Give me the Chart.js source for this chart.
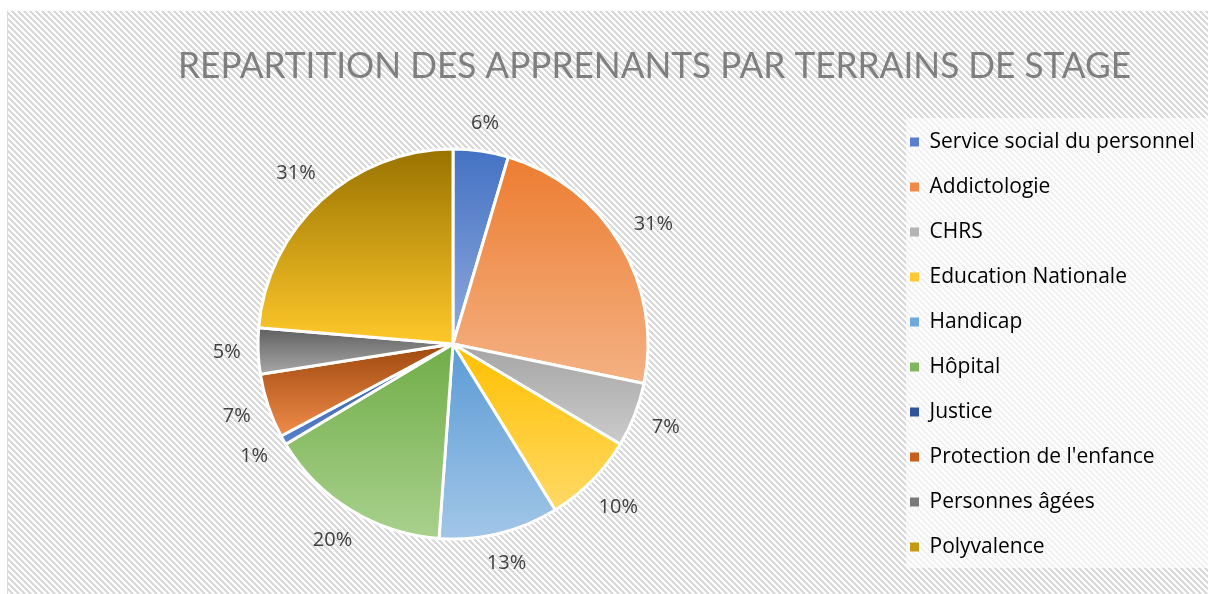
<!DOCTYPE html>
<html><head><meta charset="utf-8">
<script src="https://cdn.jsdelivr.net/npm/chart.js@4/dist/chart.umd.min.js"></script>
<style>html,body{margin:0;padding:0;background:#fff;overflow:hidden}canvas{display:block}</style>
</head><body>
<canvas id="c" width="1208" height="594"></canvas>
<script>
const titleText = 'REPARTITION DES APPRENANTS PAR TERRAINS DE STAGE';
const categories = ['Service social du personnel','Addictologie','CHRS','Education Nationale','Handicap','Hôpital','Justice',"Protection de l'enfance",'Personnes âgées','Polyvalence'];
const values = [6, 31, 7, 10, 13, 20, 1, 7, 5, 31];
const valueLabels = ['6%','31%','7%','10%','13%','20%','1%','7%','5%','31%'];
const topColors = ['#4472c4','#ed7d31','#a5a5a5','#ffc000','#5b9bd5','#70ad47','#2f5597','#9e480e','#5f5f5f','#997300'];
const bottomColors = ['#8faadc','#f4b183','#cbcbcb','#ffd966','#a2c6e8','#a9d18e','#5a82cc','#f08c4a','#a8a8a8','#ffc92b'];
const legendColors = ['#5a7fcc','#ef8a48','#b4b4b4','#ffc832','#70a8dc','#80b65f','#2f5597','#c65f1e','#7a7a7a','#c49a10'];

const TITLE_FONT = 'Lato, "Open Sans", sans-serif';
const FONT = '"Open Sans", Lato, sans-serif';
const BORDER = 3;
const PIE_CX = 453, PIE_CY = 344, PIE_R = 195;

function sliceGradient(context) {
  const chart = context.chart;
  const ca = chart.chartArea;
  const i = context.dataIndex;
  if (!ca || i === undefined || !isFinite(ca.left)) return topColors[i] || '#ccc';
  const cx = (ca.left + ca.right) / 2, cy = (ca.top + ca.bottom) / 2;
  const r = (Math.min(ca.width, ca.height) - BORDER) / 2;
  let total = 0; values.forEach(v => total += v);
  let s = 0; for (let k = 0; k < i; k++) s += values[k];
  const a0 = s / total * 2 * Math.PI, a1 = (s + values[i]) / total * 2 * Math.PI;
  const ys = [cy, cy - r * Math.cos(a0), cy - r * Math.cos(a1)];
  if (a0 <= 1e-9) ys.push(cy - r);
  if (a0 <= Math.PI && a1 >= Math.PI) ys.push(cy + r);
  const y0 = Math.min(...ys), y1 = Math.max(...ys);
  const g = chart.ctx.createLinearGradient(0, y0, 0, y1 + 0.01);
  g.addColorStop(0, topColors[i]);
  g.addColorStop(1, bottomColors[i]);
  return g;
}

const bgPlugin = {
  id: 'bg',
  beforeDraw(chart) {
    const ctx = chart.ctx, W = chart.width, H = chart.height;
    const p = document.createElement('canvas'); p.width = 6; p.height = 6;
    const pc = p.getContext('2d');
    pc.fillStyle = '#ffffff'; pc.fillRect(0, 0, 6, 6);
    pc.fillStyle = '#d9d9d9';
    for (let x = 0; x < 6; x++) for (let y = 0; y < 6; y++) if ((((x - y) % 6) + 6) % 6 < 3) pc.fillRect(x, y, 1, 1);
    ctx.save();
    ctx.fillStyle = '#ffffff'; ctx.fillRect(0, 0, W, H);
    ctx.fillStyle = ctx.createPattern(p, 'repeat');
    ctx.fillRect(8, 11, W - 8, H - 11);
    ctx.strokeStyle = '#d9d9d9'; ctx.lineWidth = 1;
    ctx.beginPath(); ctx.moveTo(7.5, 11); ctx.lineTo(7.5, H); ctx.stroke();
    ctx.fillStyle = 'rgba(255,255,255,0.65)';
    ctx.fillRect(906, 118, W - 906, 450);
    ctx.restore();
  }
};

const layoutPlugin = {
  id: 'fixLayout',
  afterLayout(chart) {
    const R = PIE_R + BORDER / 2;
    chart.chartArea = {left: PIE_CX - R, top: PIE_CY - R, right: PIE_CX + R, bottom: PIE_CY + R, width: 2 * R, height: 2 * R};
    const lg = chart.legend;
    if (lg) { lg.left = 886; lg.right = 1208; lg.top = 102; lg.bottom = 587; lg.width = 322; lg.height = 485; }
    const t = chart.titleBlock;
    if (t) { t.left = 178; t.right = 1131; t.top = 44; t.bottom = 88; t.width = 953; t.height = 44; }
  }
};

const labelPlugin = {
  id: 'outsideLabels',
  afterDatasetsDraw(chart) {
    const ctx = chart.ctx;
    const meta = chart.getDatasetMeta(0);
    ctx.save();
    ctx.font = '20px ' + FONT;
    ctx.fillStyle = '#404040';
    ctx.textAlign = 'center';
    ctx.textBaseline = 'middle';
    meta.data.forEach((arc, i) => {
      const pr = arc.getProps(['x', 'y', 'startAngle', 'endAngle', 'outerRadius'], true);
      const mid = (pr.startAngle + pr.endAngle) / 2;
      const dx = Math.cos(mid), dy = Math.sin(mid);
      const text = valueLabels[i];
      const w = ctx.measureText(text).width, h = 18;
      const ext = Math.abs(dx) * w / 2 + Math.abs(dy) * h / 2;
      const d = pr.outerRadius + 17 + ext;
      ctx.fillText(text, pr.x + dx * d, pr.y + dy * d);
    });
    ctx.restore();
  }
};

new Chart(document.getElementById('c'), {
  type: 'pie',
  data: {
    labels: categories,
    datasets: [{
      data: values,
      backgroundColor: sliceGradient,
      borderColor: '#ffffff',
      borderWidth: BORDER
    }]
  },
  options: {
    responsive: false,
    animation: false,
    devicePixelRatio: 1,
    events: [],
    plugins: {
      title: {
        display: true,
        text: titleText,
        color: '#7f7f7f',
        font: {family: TITLE_FONT, size: 37, weight: '400', lineHeight: 1.2},
        padding: 0
      },
      legend: {
        display: true,
        position: 'right',
        align: 'center',
        labels: {
          boxWidth: 9,
          boxHeight: 9,
          padding: 24,
          color: '#595959',
          font: {family: FONT, size: 21},
          generateLabels(chart) {
            return categories.map((c, i) => ({
              text: c, fillStyle: legendColors[i], strokeStyle: legendColors[i], lineWidth: 0, hidden: false, index: i
            }));
          }
        }
      },
      tooltip: {enabled: false}
    }
  },
  plugins: [bgPlugin, layoutPlugin, labelPlugin]
});
</script>
</body></html>
